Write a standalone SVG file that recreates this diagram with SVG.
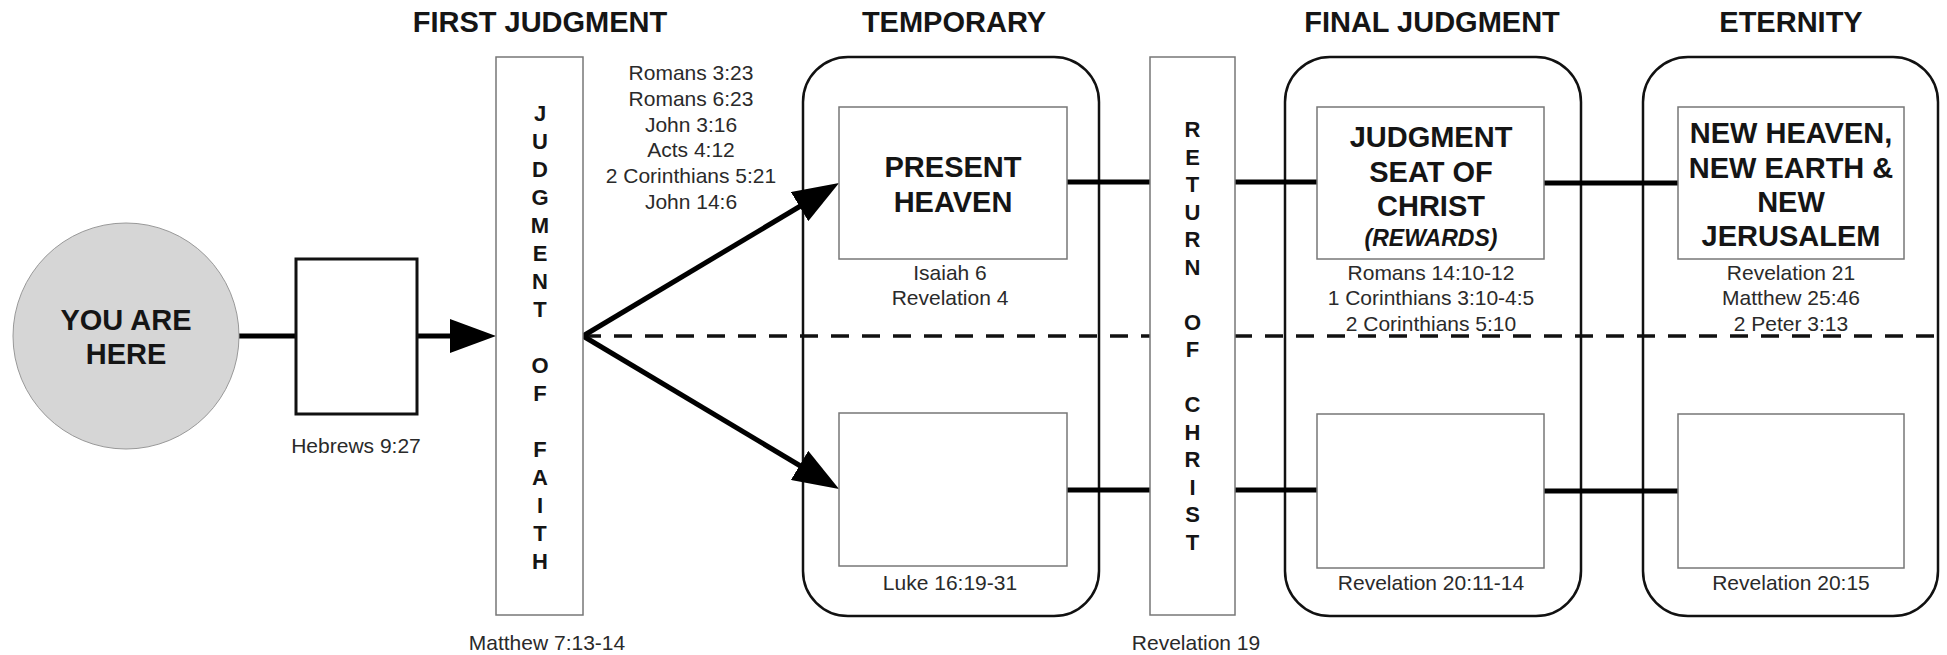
<svg xmlns="http://www.w3.org/2000/svg" width="1947" height="655" viewBox="0 0 1947 655">
<style>
.title{font-family:"Liberation Sans",Arial,sans-serif;font-weight:bold;font-size:29px;fill:#151515;text-anchor:middle}
.big{font-family:"Liberation Sans",Arial,sans-serif;font-weight:bold;font-size:29px;fill:#151515;text-anchor:middle}
.vert{font-family:"Liberation Sans",Arial,sans-serif;font-weight:bold;font-size:22px;fill:#151515;text-anchor:middle}
.ref{font-family:"Liberation Sans",Arial,sans-serif;font-size:21px;fill:#2a2a2a;text-anchor:middle}
.rew{font-family:"Liberation Sans",Arial,sans-serif;font-weight:bold;font-style:italic;font-size:23px;fill:#151515;text-anchor:middle}
.frame{fill:none;stroke:#111;stroke-width:2.5}
.inner{fill:#fff;stroke:#777;stroke-width:1.5}
.bar{fill:#fff;stroke:#777;stroke-width:1.5}
.conn{stroke:#000;stroke-width:5;fill:none}
</style>
<defs>
<marker id="ah" markerUnits="userSpaceOnUse" markerWidth="46" markerHeight="34" viewBox="0 0 46 34" refX="6" refY="17" orient="auto">
<path d="M0,0 L46,17 L0,34 z" fill="#000"/>
</marker>
</defs>
<rect width="1947" height="655" fill="#fff"/>
<g id="titles">
<text class="title" x="540" y="32">FIRST JUDGMENT</text>
<text class="title" x="954" y="32">TEMPORARY</text>
<text class="title" x="1432" y="32">FINAL JUDGMENT</text>
<text class="title" x="1791" y="32">ETERNITY</text>
</g>
<g id="frames">
<rect class="frame" x="803" y="57" width="296" height="559" rx="45" ry="45"/>
<rect class="frame" x="1285" y="57" width="296" height="559" rx="45" ry="45"/>
<rect class="frame" x="1643" y="57" width="295" height="559" rx="45" ry="45"/>
</g>
<g id="connectors">
<line x1="583" y1="336" x2="1938" y2="336" stroke="#111" stroke-width="3.5" stroke-dasharray="18 13"/>
<line class="conn" x1="239" y1="336" x2="296" y2="336"/>
<line class="conn" x1="417" y1="336" x2="456" y2="336" marker-end="url(#ah)"/>
<line class="conn" x1="583" y1="336" x2="804.7" y2="203.5" marker-end="url(#ah)"/>
<line class="conn" x1="583" y1="336" x2="804.7" y2="468.5" marker-end="url(#ah)"/>
<line class="conn" x1="1067" y1="182" x2="1150" y2="182"/>
<line class="conn" x1="1235" y1="182" x2="1317" y2="182"/>
<line class="conn" x1="1544" y1="183" x2="1678" y2="183"/>
<line class="conn" x1="1067" y1="490" x2="1150" y2="490"/>
<line class="conn" x1="1235" y1="490" x2="1317" y2="490"/>
<line class="conn" x1="1544" y1="491" x2="1678" y2="491"/>
</g>
<g id="you-are-here">
<circle cx="126" cy="336" r="113" fill="#d6d6d6" stroke="#999" stroke-width="1"/>
<text class="big" x="126" y="330">YOU ARE</text>
<text class="big" x="126" y="364">HERE</text>
</g>
<g id="death">
<rect x="296" y="259" width="121" height="155" fill="#fff" stroke="#111" stroke-width="3"/>
<text class="ref" x="356" y="453">Hebrews 9:27</text>
</g>
<g id="judgment-of-faith">
<rect class="bar" x="496" y="57" width="87" height="558"/>
<text class="vert" x="540" y="121">J</text>
<text class="vert" x="540" y="149">U</text>
<text class="vert" x="540" y="177">D</text>
<text class="vert" x="540" y="205">G</text>
<text class="vert" x="540" y="233">M</text>
<text class="vert" x="540" y="261">E</text>
<text class="vert" x="540" y="289">N</text>
<text class="vert" x="540" y="317">T</text>
<text class="vert" x="540" y="373">O</text>
<text class="vert" x="540" y="401">F</text>
<text class="vert" x="540" y="457">F</text>
<text class="vert" x="540" y="485">A</text>
<text class="vert" x="540" y="513">I</text>
<text class="vert" x="540" y="541">T</text>
<text class="vert" x="540" y="569">H</text>
<text class="ref" x="547" y="650">Matthew 7:13-14</text>
</g>
<g id="salvation-refs">
<text class="ref" x="691" y="80">Romans 3:23</text>
<text class="ref" x="691" y="106">Romans 6:23</text>
<text class="ref" x="691" y="132">John 3:16</text>
<text class="ref" x="691" y="157">Acts 4:12</text>
<text class="ref" x="691" y="183">2 Corinthians 5:21</text>
<text class="ref" x="691" y="209">John 14:6</text>
</g>
<g id="present-heaven">
<rect class="inner" x="839" y="107" width="228" height="152"/>
<text class="big" x="953" y="177">PRESENT</text>
<text class="big" x="953" y="212">HEAVEN</text>
<text class="ref" x="950" y="280">Isaiah 6</text>
<text class="ref" x="950" y="305">Revelation 4</text>
</g>
<g id="hades">
<rect class="inner" x="839" y="413" width="228" height="153"/>
<text class="ref" x="950" y="590">Luke 16:19-31</text>
</g>
<g id="return-of-christ">
<rect class="bar" x="1150" y="57" width="85" height="558"/>
<text class="vert" x="1192.5" y="137">R</text>
<text class="vert" x="1192.5" y="164.5">E</text>
<text class="vert" x="1192.5" y="192">T</text>
<text class="vert" x="1192.5" y="219.5">U</text>
<text class="vert" x="1192.5" y="247">R</text>
<text class="vert" x="1192.5" y="274.5">N</text>
<text class="vert" x="1192.5" y="329.5">O</text>
<text class="vert" x="1192.5" y="357">F</text>
<text class="vert" x="1192.5" y="412">C</text>
<text class="vert" x="1192.5" y="439.5">H</text>
<text class="vert" x="1192.5" y="467">R</text>
<text class="vert" x="1192.5" y="494.5">I</text>
<text class="vert" x="1192.5" y="522">S</text>
<text class="vert" x="1192.5" y="549.5">T</text>
<text class="ref" x="1196" y="650">Revelation 19</text>
</g>
<g id="judgment-seat">
<rect class="inner" x="1317" y="107" width="227" height="152"/>
<text class="big" x="1431" y="147">JUDGMENT</text>
<text class="big" x="1431" y="182">SEAT OF</text>
<text class="big" x="1431" y="216">CHRIST</text>
<text class="rew" x="1431" y="246">(REWARDS)</text>
<text class="ref" x="1431" y="280">Romans 14:10-12</text>
<text class="ref" x="1431" y="305">1 Corinthians 3:10-4:5</text>
<text class="ref" x="1431" y="331">2 Corinthians 5:10</text>
</g>
<g id="great-white-throne">
<rect class="inner" x="1317" y="414" width="227" height="154"/>
<text class="ref" x="1431" y="590">Revelation 20:11-14</text>
</g>
<g id="new-heaven">
<rect class="inner" x="1678" y="107" width="226" height="152"/>
<text class="big" x="1791" y="143">NEW HEAVEN,</text>
<text class="big" x="1791" y="178">NEW EARTH &amp;</text>
<text class="big" x="1791" y="212">NEW</text>
<text class="big" x="1791" y="246">JERUSALEM</text>
<text class="ref" x="1791" y="280">Revelation 21</text>
<text class="ref" x="1791" y="305">Matthew 25:46</text>
<text class="ref" x="1791" y="331">2 Peter 3:13</text>
</g>
<g id="lake-of-fire">
<rect class="inner" x="1678" y="414" width="226" height="154"/>
<text class="ref" x="1791" y="590">Revelation 20:15</text>
</g>
</svg>
